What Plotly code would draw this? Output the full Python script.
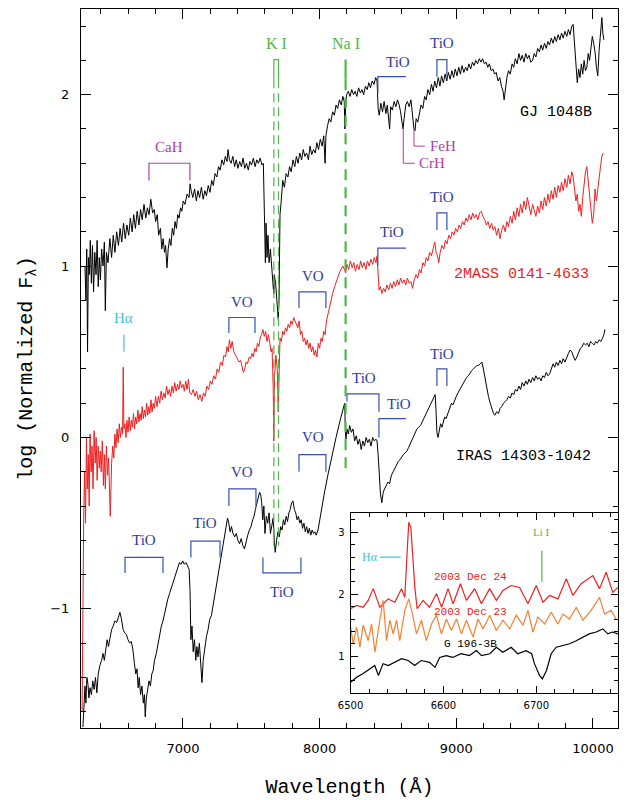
import plotly.graph_objects as go

# ---------------- main spectra (wavelength, log normalized flux) ----------------
gj1048b = [
(6283,1.00),(6290,0.80),(6296,1.10),(6302,0.50),(6308,1.05),(6315,0.95),(6322,1.15),(6330,0.90),
(6338,1.12),(6346,0.85),(6355,1.08),(6364,0.95),(6372,1.15),(6380,0.88),(6388,1.05),(6396,0.92),
(6405,1.10),(6415,1.00),(6425,1.14),(6432,0.74),(6440,1.08),(6452,1.02),(6465,1.16),(6478,1.05),
(6490,1.18),(6502,1.08),(6515,1.20),(6528,1.12),(6540,1.22),(6552,1.14),(6565,1.25),(6578,1.16),
(6590,1.24),(6603,1.18),(6615,1.28),(6628,1.20),(6640,1.30),(6652,1.22),(6665,1.32),(6678,1.24),
(6690,1.33),(6702,1.27),(6715,1.36),(6728,1.28),(6740,1.34),(6752,1.30),(6765,1.39),(6778,1.31),
(6790,1.33),(6800,1.26),(6812,1.30),(6822,1.18),(6835,1.22),(6845,1.10),(6855,1.16),(6865,1.08),
(6873,1.12),(6883,0.99),(6892,1.10),(6902,1.16),(6912,1.12),(6922,1.22),(6932,1.18),(6942,1.26),
(6952,1.22),(6962,1.30),(6972,1.28),(6982,1.34),(6992,1.32),(7002,1.38),(7015,1.36),(7030,1.42),
(7045,1.40),(7052,1.48),(7060,1.44),(7072,1.40),(7085,1.45),(7098,1.38),(7110,1.44),(7122,1.40),
(7135,1.46),(7148,1.39),(7160,1.44),(7172,1.41),(7185,1.47),(7198,1.43),(7210,1.50),(7222,1.47),
(7235,1.54),(7248,1.52),(7260,1.58),(7272,1.56),(7285,1.62),(7298,1.59),(7310,1.64),(7322,1.61),
(7330,1.68),(7340,1.62),(7352,1.60),(7365,1.64),(7378,1.58),(7390,1.62),(7402,1.57),(7415,1.61),
(7428,1.58),(7440,1.63),(7452,1.57),(7465,1.60),(7478,1.56),(7490,1.61),(7502,1.59),(7515,1.63),
(7528,1.58),(7540,1.62),(7552,1.60),(7565,1.63),(7578,1.59),(7588,1.60),(7596,1.30),(7603,1.02),
(7608,1.25),(7615,1.05),(7622,1.18),(7630,1.02),(7640,1.10),(7650,0.95),(7660,0.88),(7665,0.84),
(7668,0.95),(7678,0.90),(7688,0.80),(7697,0.69),(7703,0.80),(7710,1.30),(7718,1.37),(7730,1.50),
(7742,1.46),(7755,1.54),(7768,1.52),(7780,1.58),(7792,1.55),(7805,1.62),(7818,1.58),(7830,1.64),
(7842,1.60),(7855,1.66),(7868,1.62),(7880,1.68),(7892,1.64),(7905,1.66),(7918,1.62),(7930,1.70),
(7942,1.65),(7955,1.68),(7968,1.66),(7980,1.72),(7992,1.68),(8005,1.74),(8018,1.70),(8030,1.76),
(8040,1.60),(8046,1.76),(8058,1.82),(8070,1.86),(8082,1.84),(8095,1.90),(8108,1.88),(8120,1.94),
(8132,1.92),(8145,1.97),(8158,1.94),(8170,1.99),(8180,1.96),(8185,1.80),(8190,1.92),(8198,2.00),
(8210,2.02),(8222,1.99),(8235,2.03),(8248,2.00),(8260,2.02),(8272,1.99),(8285,2.04),(8298,2.01),
(8310,2.03),(8322,2.00),(8335,2.05),(8348,2.03),(8360,2.07),(8372,2.04),(8385,2.08),(8398,2.06),
(8410,2.10),(8420,2.08),(8428,1.92),(8436,1.88),(8448,1.95),(8460,1.90),(8472,1.96),(8485,1.89),
(8495,1.94),(8512,1.80),(8520,1.93),(8532,1.91),(8545,1.96),(8558,1.93),(8570,1.97),(8582,1.94),
(8592,1.90),(8602,1.84),(8610,1.80),(8618,1.86),(8630,1.94),(8642,1.96),(8655,1.93),(8668,1.97),
(8680,1.88),(8690,1.80),(8698,1.79),(8706,1.86),(8718,1.84),(8730,1.90),(8742,1.94),(8755,1.92),
(8768,1.99),(8780,1.97),(8792,2.03),(8805,2.00),(8818,2.06),(8830,2.02),(8842,2.08),(8855,2.04),
(8868,2.10),(8880,2.05),(8892,2.11),(8905,2.07),(8918,2.12),(8930,2.08),(8942,2.13),(8955,2.09),
(8968,2.14),(8980,2.10),(8992,2.15),(9005,2.11),(9018,2.16),(9030,2.12),(9042,2.17),(9055,2.13),
(9068,2.16),(9080,2.14),(9092,2.18),(9105,2.15),(9118,2.19),(9130,2.17),(9142,2.20),(9155,2.18),
(9168,2.21),(9180,2.19),(9192,2.21),(9205,2.18),(9218,2.19),(9230,2.16),(9242,2.18),(9255,2.14),
(9268,2.15),(9280,2.12),(9292,2.13),(9305,2.08),(9318,2.10),(9330,2.05),(9342,2.02),(9350,1.97),
(9358,2.04),(9370,2.10),(9382,2.14),(9395,2.12),(9408,2.18),(9420,2.16),(9432,2.21),(9445,2.18),
(9458,2.24),(9470,2.20),(9482,2.23),(9495,2.19),(9508,2.24),(9520,2.21),(9532,2.23),(9545,2.19),
(9558,2.20),(9570,2.24),(9582,2.22),(9595,2.27),(9608,2.25),(9620,2.29),(9632,2.26),(9645,2.30),
(9658,2.27),(9670,2.31),(9682,2.29),(9695,2.33),(9708,2.30),(9720,2.34),(9732,2.31),(9745,2.35),
(9758,2.32),(9770,2.36),(9782,2.33),(9795,2.37),(9808,2.34),(9820,2.38),(9832,2.35),(9845,2.40),
(9855,2.41),(9865,2.30),(9875,2.20),(9885,2.07),(9895,2.15),(9905,2.10),(9915,2.18),(9925,2.12),
(9935,2.20),(9945,2.14),(9955,2.16),(9965,2.24),(9975,2.20),(9985,2.28),(9995,2.34),(10005,2.30),
(10015,2.25),(10025,2.16),(10035,2.11),(10045,2.26),(10055,2.38),(10065,2.45),(10072,2.36),(10080,2.32),
]

mass0141 = [
(6262,-1.60),(6268,-0.90),(6274,-0.45),(6280,-0.20),(6287,-0.50),(6294,0.00),(6300,-0.30),(6307,-0.10),
(6314,-0.40),(6320,0.02),(6328,-0.20),(6335,-0.05),(6342,-0.30),(6350,0.04),(6358,-0.15),(6365,0.00),
(6372,-0.25),(6380,-0.05),(6388,-0.18),(6395,-0.08),(6402,-0.20),(6410,-0.02),(6418,-0.28),(6425,-0.10),
(6432,-0.30),(6440,-0.05),(6448,-0.22),(6456,-0.12),(6464,-0.35),(6468,-0.46),(6478,-0.15),(6486,-0.05),
(6494,-0.12),(6502,0.02),(6510,-0.06),(6518,0.05),(6526,-0.03),(6534,0.08),(6542,0.00),(6550,0.06),
(6558,0.02),(6563,0.41),(6568,0.05),(6575,0.08),(6583,0.00),(6590,0.10),(6598,0.03),(6606,0.12),
(6614,0.04),(6622,0.10),(6630,0.06),(6638,0.14),(6646,0.05),(6654,0.12),(6662,0.08),(6670,0.16),
(6678,0.09),(6686,0.14),(6694,0.10),(6702,0.18),(6710,0.11),(6718,0.16),(6726,0.12),(6734,0.20),
(6742,0.13),(6750,0.18),(6758,0.14),(6766,0.22),(6774,0.15),(6782,0.20),(6790,0.17),(6800,0.24),
(6810,0.18),(6820,0.24),(6830,0.20),(6840,0.27),(6850,0.22),(6860,0.26),(6870,0.23),(6880,0.30),
(6890,0.25),(6900,0.28),(6910,0.24),(6920,0.30),(6930,0.26),(6940,0.32),(6950,0.27),(6960,0.31),
(6970,0.28),(6980,0.33),(6990,0.29),(7000,0.31),(7010,0.27),(7020,0.33),(7030,0.28),(7040,0.34),
(7050,0.26),(7062,0.25),(7075,0.28),(7088,0.24),(7100,0.27),(7112,0.22),(7125,0.25),(7138,0.21),
(7150,0.26),(7162,0.24),(7175,0.30),(7188,0.28),(7200,0.33),(7212,0.31),(7225,0.36),(7238,0.34),
(7250,0.40),(7262,0.38),(7275,0.44),(7288,0.42),(7300,0.48),(7312,0.47),(7322,0.53),(7332,0.50),
(7340,0.57),(7350,0.52),(7360,0.56),(7372,0.50),(7385,0.48),(7398,0.46),(7410,0.44),(7422,0.45),
(7432,0.41),(7442,0.38),(7452,0.40),(7462,0.44),(7472,0.43),(7485,0.47),(7495,0.46),(7505,0.49),
(7515,0.47),(7525,0.52),(7535,0.50),(7545,0.55),(7555,0.53),(7565,0.58),(7575,0.60),(7585,0.63),
(7595,0.59),(7605,0.62),(7615,0.56),(7625,0.60),(7635,0.55),(7645,0.50),(7652,0.52),(7660,0.30),
(7665,-0.02),(7670,0.35),(7680,0.48),(7690,0.40),(7697,0.15),(7702,0.35),(7710,0.58),(7720,0.56),
(7730,0.62),(7740,0.60),(7750,0.64),(7760,0.62),(7770,0.66),(7780,0.64),(7790,0.68),(7800,0.66),
(7810,0.70),(7820,0.68),(7830,0.66),(7840,0.64),(7850,0.68),(7860,0.60),(7870,0.62),(7880,0.56),
(7890,0.58),(7900,0.54),(7910,0.57),(7920,0.52),(7930,0.55),(7940,0.50),(7950,0.53),(7960,0.48),
(7970,0.51),(7980,0.47),(7990,0.55),(8000,0.52),(8010,0.58),(8020,0.56),(8030,0.62),(8040,0.60),
(8050,0.68),(8065,0.74),(8080,0.80),(8095,0.84),(8110,0.88),(8125,0.92),(8140,0.95),(8155,0.98),
(8170,1.00),(8182,0.98),(8190,0.96),(8200,1.01),(8212,0.98),(8225,1.03),(8238,0.99),(8250,1.02),
(8262,0.97),(8275,1.01),(8288,0.98),(8300,1.03),(8312,0.99),(8325,1.02),(8338,0.98),(8350,1.03),
(8362,1.00),(8375,1.04),(8388,1.01),(8400,1.05),(8412,1.02),(8420,1.06),(8428,0.90),(8435,0.86),
(8445,0.88),(8455,0.84),(8468,0.87),(8480,0.85),(8492,0.89),(8505,0.86),(8518,0.90),(8530,0.87),
(8542,0.91),(8555,0.88),(8568,0.92),(8580,0.89),(8592,0.93),(8605,0.90),(8618,0.92),(8630,0.89),
(8642,0.93),(8655,0.90),(8668,0.91),(8680,0.87),(8692,0.92),(8705,0.95),(8718,0.93),(8730,0.98),
(8742,0.96),(8755,1.02),(8768,1.00),(8780,1.05),(8792,1.03),(8805,1.08),(8818,1.06),(8830,1.10),
(8842,1.14),(8852,1.08),(8862,1.06),(8872,1.02),(8882,1.08),(8895,1.12),(8908,1.10),(8920,1.15),
(8932,1.13),(8945,1.18),(8958,1.16),(8970,1.20),(8982,1.18),(8995,1.22),(9008,1.20),(9020,1.24),
(9032,1.22),(9045,1.26),(9058,1.24),(9070,1.28),(9082,1.26),(9095,1.30),(9108,1.27),(9120,1.31),
(9132,1.28),(9145,1.30),(9158,1.27),(9170,1.31),(9182,1.32),(9195,1.29),(9208,1.27),(9220,1.24),
(9232,1.26),(9245,1.22),(9258,1.25),(9270,1.21),(9282,1.23),(9295,1.18),(9308,1.22),(9320,1.16),
(9332,1.21),(9345,1.24),(9358,1.20),(9370,1.26),(9382,1.23),(9395,1.29),(9408,1.25),(9420,1.32),
(9432,1.27),(9445,1.34),(9458,1.29),(9470,1.36),(9482,1.31),(9495,1.38),(9508,1.33),(9520,1.40),
(9532,1.35),(9545,1.30),(9558,1.36),(9570,1.32),(9582,1.29),(9595,1.35),(9608,1.31),(9620,1.38),
(9632,1.33),(9645,1.40),(9658,1.35),(9670,1.42),(9682,1.37),(9695,1.44),(9708,1.39),(9720,1.46),
(9732,1.40),(9745,1.47),(9758,1.43),(9770,1.49),(9782,1.44),(9795,1.51),(9808,1.46),(9820,1.53),
(9832,1.48),(9845,1.55),(9855,1.52),(9865,1.45),(9875,1.38),(9885,1.42),(9895,1.32),(9905,1.36),
(9915,1.29),(9925,1.40),(9935,1.48),(9945,1.55),(9955,1.58),(9965,1.50),(9975,1.42),(9985,1.35),
(9995,1.25),(10005,1.30),(10015,1.45),(10025,1.38),(10035,1.46),(10045,1.52),(10055,1.58),(10065,1.64),
(10075,1.66),
]

iras14303 = [
(6268,-1.69),(6275,-1.60),(6283,-1.45),(6290,-1.55),(6297,-1.40),(6305,-1.44),(6312,-1.52),(6320,-1.46),
(6330,-1.50),(6340,-1.42),(6350,-1.47),(6360,-1.40),(6370,-1.49),(6380,-1.38),(6392,-1.33),(6405,-1.30),
(6415,-1.26),(6425,-1.30),(6435,-1.22),(6445,-1.18),(6455,-1.22),(6466,-1.16),(6478,-1.12),(6490,-1.10),
(6502,-1.07),(6515,-1.08),(6528,-1.04),(6539,-1.02),(6550,-1.06),(6562,-1.12),(6574,-1.14),(6586,-1.15),
(6598,-1.18),(6610,-1.20),(6622,-1.19),(6634,-1.24),(6645,-1.32),(6655,-1.38),(6664,-1.35),(6672,-1.46),
(6680,-1.40),(6690,-1.50),(6700,-1.45),(6710,-1.55),(6718,-1.50),(6724,-1.63),(6732,-1.52),(6742,-1.48),
(6752,-1.42),(6762,-1.45),(6772,-1.38),(6782,-1.36),(6792,-1.30),(6805,-1.26),(6818,-1.20),(6830,-1.16),
(6842,-1.10),(6854,-1.07),(6866,-1.02),(6878,-0.98),(6890,-0.94),(6902,-0.91),(6914,-0.88),(6926,-0.85),
(6938,-0.82),(6950,-0.78),(6962,-0.75),(6974,-0.73),(6986,-0.74),(6998,-0.72),(7010,-0.74),(7022,-0.73),
(7034,-0.75),(7045,-0.77),(7052,-0.90),(7058,-1.18),(7066,-1.10),(7075,-1.25),(7084,-1.18),(7094,-1.30),
(7102,-1.22),(7110,-1.28),(7120,-1.20),(7130,-1.32),(7139,-1.43),(7148,-1.30),(7160,-1.22),(7172,-1.16),
(7184,-1.12),(7196,-1.06),(7208,-1.04),(7220,-0.98),(7232,-0.92),(7244,-0.86),(7256,-0.80),(7268,-0.74),
(7280,-0.69),(7292,-0.64),(7304,-0.58),(7316,-0.52),(7326,-0.47),(7335,-0.50),(7345,-0.55),(7355,-0.52),
(7366,-0.56),(7378,-0.58),(7390,-0.56),(7402,-0.60),(7414,-0.62),(7426,-0.59),(7438,-0.63),(7450,-0.65),
(7462,-0.60),(7474,-0.57),(7486,-0.54),(7498,-0.52),(7510,-0.48),(7520,-0.46),(7530,-0.42),(7540,-0.38),
(7550,-0.34),(7560,-0.32),(7568,-0.33),(7576,-0.38),(7584,-0.48),(7592,-0.40),(7600,-0.56),(7610,-0.46),
(7620,-0.50),(7630,-0.44),(7640,-0.56),(7650,-0.50),(7660,-0.47),(7668,-0.60),(7675,-0.67),(7685,-0.60),
(7695,-0.55),(7705,-0.58),(7715,-0.52),(7725,-0.54),(7735,-0.48),(7745,-0.51),(7755,-0.46),(7765,-0.49),
(7775,-0.44),(7785,-0.42),(7795,-0.38),(7805,-0.37),(7815,-0.42),(7825,-0.44),(7835,-0.48),(7845,-0.46),
(7855,-0.50),(7865,-0.48),(7875,-0.53),(7885,-0.50),(7895,-0.55),(7905,-0.52),(7915,-0.56),(7925,-0.53),
(7935,-0.57),(7945,-0.54),(7955,-0.56),(7965,-0.55),(7975,-0.57),(7988,-0.54),(8000,-0.48),(8012,-0.42),
(8025,-0.36),(8038,-0.31),(8060,-0.22),(8090,-0.10),(8120,0.00),(8150,0.10),(8170,0.16),(8183,0.20),
(8188,0.05),(8192,-0.01),(8200,0.05),(8210,0.02),(8220,0.07),(8232,0.03),(8244,0.05),(8256,-0.02),
(8268,0.01),(8280,-0.04),(8292,-0.01),(8304,-0.07),(8316,-0.02),(8328,-0.05),(8340,0.00),(8352,-0.03),
(8364,-0.01),(8376,-0.05),(8388,0.00),(8400,-0.02),(8412,-0.01),(8420,-0.02),(8428,-0.10),(8436,-0.25),
(8445,-0.33),(8455,-0.38),(8465,-0.32),(8475,-0.30),(8488,-0.28),(8500,-0.26),(8512,-0.27),(8525,-0.22),
(8538,-0.20),(8550,-0.18),(8562,-0.16),(8575,-0.14),(8588,-0.13),(8600,-0.11),(8612,-0.10),(8625,-0.09),
(8638,-0.08),(8650,-0.06),(8662,-0.04),(8675,-0.01),(8688,0.01),(8700,0.03),(8712,0.05),(8725,0.06),
(8738,0.07),(8750,0.09),(8762,0.11),(8775,0.13),(8788,0.15),(8800,0.17),(8812,0.19),(8825,0.21),
(8838,0.24),(8845,0.25),(8852,0.15),(8858,0.03),(8866,0.00),(8875,0.05),(8885,0.08),(8895,0.06),
(8905,0.10),(8915,0.12),(8925,0.11),(8935,0.13),(8945,0.15),(8955,0.18),(8965,0.20),(8975,0.19),
(8988,0.22),(9000,0.24),(9012,0.26),(9025,0.28),(9038,0.30),(9050,0.32),(9062,0.33),(9075,0.35),
(9088,0.36),(9100,0.38),(9112,0.39),(9125,0.40),(9138,0.41),(9150,0.42),(9162,0.42),(9175,0.43),
(9187,0.44),(9198,0.40),(9210,0.34),(9222,0.28),(9235,0.24),(9248,0.20),(9260,0.17),(9272,0.14),
(9282,0.13),(9295,0.15),(9308,0.14),(9320,0.17),(9332,0.18),(9345,0.20),(9358,0.21),(9370,0.22),
(9382,0.24),(9395,0.23),(9408,0.26),(9420,0.25),(9432,0.28),(9445,0.27),(9458,0.30),(9470,0.28),
(9482,0.32),(9495,0.30),(9508,0.33),(9520,0.31),(9532,0.34),(9545,0.32),(9558,0.35),(9570,0.33),
(9582,0.36),(9595,0.34),(9608,0.35),(9620,0.33),(9632,0.36),(9645,0.35),(9658,0.38),(9670,0.36),
(9682,0.37),(9695,0.40),(9708,0.43),(9720,0.41),(9732,0.44),(9745,0.42),(9758,0.45),(9770,0.43),
(9782,0.46),(9795,0.44),(9808,0.47),(9820,0.49),(9832,0.51),(9845,0.50),(9858,0.47),(9870,0.45),
(9882,0.47),(9895,0.50),(9908,0.52),(9920,0.53),(9932,0.55),(9945,0.54),(9958,0.55),(9970,0.53),
(9982,0.56),(9995,0.55),(10008,0.54),(10020,0.56),(10032,0.55),(10045,0.57),(10058,0.56),(10070,0.58),
(10080,0.60),(10087,0.63),
]

# ---------------- inset spectra ----------------
dec24 = [
(6500,1.765),(6506.5,1.82),(6513.6,1.79),(6519,1.90),(6524.4,2.09),(6531.5,1.79),(6540.5,1.925),
(6547.7,1.87),(6554.8,2.09),(6558.4,1.95),(6561,2.70),(6562.7,3.16),(6564.9,3.08),(6566.7,2.65),
(6569.2,2.11),(6571.7,1.765),(6578,1.90),(6585,1.79),(6592.5,2.01),(6598,1.79),(6605,2.09),
(6610.4,1.845),(6618.3,2.17),(6624.7,1.90),(6633.7,2.09),(6640.9,1.845),(6649.8,2.09),(6657,1.90),
(6664.2,2.06),(6673.1,2.14),(6682,2.11),(6691,1.845),(6700,2.14),(6707.2,1.87),(6714.3,1.98),
(6723.3,1.925),(6732.3,2.25),(6739.4,1.98),(6748.4,2.17),(6760.9,2.30),(6768.1,2.09),(6775.3,2.355),
(6782.4,2.03),(6787.8,2.11),
]
dec23 = [
(6500,1.47),(6502.9,1.20),(6506.5,1.47),(6510,1.145),(6513.6,1.50),(6519,1.25),(6522.6,1.52),
(6526.2,1.065),(6531.5,1.58),(6535.1,1.90),(6538.7,1.25),(6542.3,1.58),(6545.9,1.36),(6549.5,1.58),
(6553,1.25),(6558.4,1.74),(6562.7,1.925),(6566.7,1.68),(6571,1.36),(6576.3,1.58),(6581.7,1.25),
(6587.1,1.52),(6592.5,1.66),(6597.8,1.36),(6603.2,1.60),(6608.6,1.415),(6614,1.60),(6619.4,1.36),
(6624.7,1.58),(6631.9,1.31),(6637.3,1.60),(6642.7,1.44),(6649.8,1.66),(6657,1.415),(6664.2,1.58),
(6671.3,1.44),(6678.5,1.66),(6685.7,1.50),(6691,1.74),(6696.4,1.39),(6701.8,1.63),(6709,1.52),
(6716.1,1.71),(6723.3,1.52),(6728.7,1.68),(6735.8,1.60),(6743,1.79),(6750.2,1.58),(6759.1,1.74),
(6768.1,1.95),(6773.5,1.68),(6780.6,1.74),(6786,1.60),
]
g196 = [
(6500,0.58),(6506.5,0.66),(6513.6,0.72),(6520.8,0.80),(6526,0.85),(6530,0.69),(6535,0.88),
(6540.5,0.85),(6547.7,0.90),(6555,0.96),(6562,0.93),(6569,0.85),(6576,0.93),(6585,0.90),(6591,0.82),
(6596,0.98),(6603,1.01),(6610,0.98),(6619,1.04),(6628,1.01),(6635.5,1.09),(6641,1.01),(6650,1.04),
(6657,1.145),(6664,1.065),(6673,1.145),(6680,1.04),(6689,1.09),(6695,1.04),(6698,0.88),(6703.5,0.69),
(6706.5,0.635),(6711,0.77),(6716,1.04),(6721.5,1.145),(6728.7,1.17),(6736,1.20),(6743,1.25),
(6750,1.31),(6757,1.36),(6764.5,1.39),(6771.7,1.44),(6777,1.36),(6782,1.39),(6788,1.36),
]

# ---------------- annotations ----------------
# bracket: (lambda_left, lambda_right, y_top, left_leg_end, right_leg_end, color)
BLUE = "#3a50b0"; BLUE_T = "#2c3c9c"; MAG = "#b040a8"; GREEN = "#50b848"; CYAN = "#40c4d8"
RED = "#ee2020"; ORANGE = "#f58030"
brackets = [
    (6751, 7051, 1.60, 1.50, 1.50, MAG),
    (8426, 8631, 2.105, 2.01, None, BLUE),
    (8858, 8931, 2.205, 2.105, 2.105, BLUE),
    (7336, 7527, 0.70, 0.61, 0.61, BLUE),
    (7849, 8046, 0.85, 0.755, 0.755, BLUE),
    (8426, 8631, 1.105, 1.00, None, BLUE),
    (8858, 8931, 1.31, 1.21, 1.21, BLUE),
    (6576, 6854, -0.70, -0.79, -0.79, BLUE),
    (7058, 7271, -0.605, -0.70, -0.70, BLUE),
    (7336, 7534, -0.30, -0.40, -0.40, BLUE),
    (7585, 7863, -0.79, -0.70, -0.70, BLUE),
    (7849, 8046, -0.10, -0.20, -0.20, BLUE),
    (8200, 8434, 0.255, 0.21, 0.15, BLUE),
    (8434, 8631, 0.11, 0.00, None, BLUE),
    (8858, 8931, 0.40, 0.30, 0.30, BLUE),
]
# hook lines for FeH / CrH: (lambda, y_start, y_corner, lambda_end)
hooks = [(8690, 1.795, 1.70, 8770), (8612, 1.81, 1.60, 8697)]
# labels: (text, lambda, y, color, font, size, anchor)
SERIF = "Liberation Serif"; MONO = "Liberation Mono"
labels = [
    ("K I", 7688, 2.30, GREEN, SERIF, 16, "center"),
    ("Na I", 8192, 2.30, GREEN, SERIF, 16, "center"),
    ("CaH", 6898, 1.695, MAG, SERIF, 15, "center"),
    ("TiO", 8573, 2.19, BLUE_T, SERIF, 15, "center"),
    ("TiO", 8895, 2.30, BLUE_T, SERIF, 15, "center"),
    ("FeH", 8792, 1.70, MAG, SERIF, 15, "left"),
    ("CrH", 8712, 1.60, MAG, SERIF, 15, "left"),
    ("GJ 1048B", 9729, 1.895, "black", MONO, 15, "center"),
    ("Hα", 6568, 0.70, CYAN, SERIF, 15, "center"),
    ("VO", 7432, 0.79, BLUE_T, SERIF, 15, "center"),
    ("VO", 7951, 0.94, BLUE_T, SERIF, 15, "center"),
    ("TiO", 8529, 1.20, BLUE_T, SERIF, 15, "center"),
    ("TiO", 8895, 1.405, BLUE_T, SERIF, 15, "center"),
    ("2MASS 0141-4633", 9480, 0.95, RED, MONO, 15, "center"),
    ("TiO", 6715, -0.60, BLUE_T, SERIF, 15, "center"),
    ("TiO", 7161, -0.50, BLUE_T, SERIF, 15, "center"),
    ("VO", 7432, -0.20, BLUE_T, SERIF, 15, "center"),
    ("TiO", 7724, -0.90, BLUE_T, SERIF, 15, "center"),
    ("VO", 7951, 0.0, BLUE_T, SERIF, 15, "center"),
    ("TiO", 8324, 0.35, BLUE_T, SERIF, 15, "center"),
    ("TiO", 8580, 0.195, BLUE_T, SERIF, 15, "center"),
    ("TiO", 8895, 0.49, BLUE_T, SERIF, 15, "center"),
    ("IRAS 14303-1042", 9494, -0.11, "black", MONO, 15, "center"),
]
KI_lines = [7665, 7699]
NaI_line = 8190
line_top = 2.205
line_solid_end = 2.09
KI_bottom = -0.63
NaI_bottom = -0.19
Ha_tick = (6568, 0.60, 0.50)

inset_labels = [
    ("Hα", 6521, 2.60, CYAN, SERIF, 12),
    ("Li I", 6706, 3.0, GREEN, SERIF, 11),
    ("2003 Dec 24", 6629, 2.285, RED, MONO, 11),
    ("2003 Dec 23", 6629, 1.72, RED, MONO, 11),
    ("G 196-3B", 6629, 1.19, "black", MONO, 11),
]
inset_Ha_line = (6531.5, 6554, 2.60)
inset_Li_line = (6706, 2.70, 2.20)

XR = [6254, 10183]; YR = [-1.695, 2.50]
XR2 = [6500, 6788]; YR2 = [0.41, 3.31]

fig = go.Figure()

def add_line(x, y, color, width=1.0, dash=None, xa="x", ya="y"):
    fig.add_trace(go.Scatter(x=x, y=y, mode="lines", xaxis=xa, yaxis=ya,
                             line=dict(color=color, width=width, dash=dash),
                             hoverinfo="skip", showlegend=False))

for spec, col in [(gj1048b, "black"), (mass0141, RED), (iras14303, "black")]:
    add_line([p[0] for p in spec], [p[1] for p in spec], col, 1.0)

for (l0, l1, top, e0, e1, col) in brackets:
    xs, ys = [], []
    if e0 is not None:
        xs.append(l0); ys.append(e0)
    xs += [l0, l1]; ys += [top, top]
    if e1 is not None:
        xs.append(l1); ys.append(e1)
    add_line(xs, ys, col, 1.2)

for (lam, y0, yc, lend) in hooks:
    add_line([lam, lam, lend], [y0, yc, yc], MAG, 1.0)

# K I doublet and Na I
add_line([KI_lines[0], KI_lines[0], KI_lines[1], KI_lines[1]],
         [line_solid_end, line_top, line_top, line_solid_end], GREEN, 1.2)
for l in KI_lines:
    add_line([l, l], [line_solid_end, KI_bottom], GREEN, 1.2, dash="9px,5px")
add_line([NaI_line, NaI_line], [line_top, line_solid_end], GREEN, 2.2)
add_line([NaI_line, NaI_line], [line_solid_end, NaI_bottom], GREEN, 2.2, dash="11px,7px")
add_line([Ha_tick[0], Ha_tick[0]], [Ha_tick[1], Ha_tick[2]], CYAN, 1.2)

# inset
for spec, col in [(dec24, RED), (dec23, ORANGE), (g196, "black")]:
    add_line([p[0] for p in spec], [p[1] for p in spec], col, 1.2, xa="x2", ya="y2")
add_line([inset_Ha_line[0], inset_Ha_line[1]], [inset_Ha_line[2]] * 2, CYAN, 1.2, xa="x2", ya="y2")
add_line([inset_Li_line[0]] * 2, [inset_Li_line[1], inset_Li_line[2]], GREEN, 1.2, xa="x2", ya="y2")

ann = []
for (t, lam, y, col, fam, sz, anc) in labels:
    ann.append(dict(text=t, x=lam, y=y, xref="x", yref="y", showarrow=False,
                    xanchor=anc, yanchor="middle", font=dict(color=col, family=fam, size=sz)))
for (t, lam, y, col, fam, sz) in inset_labels:
    ann.append(dict(text=t, x=lam, y=y, xref="x2", yref="y2", showarrow=False,
                    xanchor="center", yanchor="middle", font=dict(color=col, family=fam, size=sz)))

tickfont = dict(family="DejaVu Sans", size=13, color="black")
common = dict(showgrid=False, zeroline=False, showline=True, linecolor="black", linewidth=1,
              mirror="allticks", ticks="inside", tickcolor="black", tickwidth=1, automargin=False)

fig.update_layout(
    width=628, height=800, margin=dict(l=81, r=10, t=9, b=72),
    paper_bgcolor="white", plot_bgcolor="white", showlegend=False,
    annotations=ann,
    xaxis=dict(range=XR, tick0=0, dtick=1000, ticklen=10, tickfont=tickfont, tickformat="d",
               minor=dict(dtick=200, ticklen=5, ticks="inside", tickcolor="black"),
               title=dict(text="Wavelength (Å)", font=dict(family=MONO, size=20, color="black"), standoff=24),
               ticklabelstandoff=8, **common),
    yaxis=dict(range=YR, tick0=0, dtick=1, ticklen=10, tickfont=tickfont,
               minor=dict(dtick=0.2, ticklen=5, ticks="inside", tickcolor="black"),
               title=dict(text="log (Normalized F<sub>λ</sub>)", font=dict(family=MONO, size=20, color="black"), standoff=12),
               ticklabelstandoff=8, **common),
    xaxis2=dict(domain=[0.502, 1.0], anchor="y2", range=XR2, tick0=0, dtick=100, ticklen=7,
                tickfont=dict(family="DejaVu Sans", size=10, color="black"), tickformat="d",
                minor=dict(dtick=20, ticklen=4, ticks="inside", tickcolor="black"),
                ticklabelstandoff=3, **common),
    yaxis2=dict(domain=[0.049, 0.299], anchor="x2", range=YR2, tick0=0, dtick=1, ticklen=7,
                tickfont=dict(family="DejaVu Sans", size=10, color="black"),
                minor=dict(dtick=0.2, ticklen=4, ticks="inside", tickcolor="black"),
                ticklabelstandoff=3, **common),
    shapes=[dict(type="rect", xref="x2 domain", yref="y2 domain", x0=0, x1=1, y0=0, y1=1,
                 fillcolor="white", line=dict(width=0), layer="below")],
)

fig.write_html("out.html", config={"displayModeBar": False},
               post_script="document.body.style.margin='0px';document.body.style.overflow='hidden';")
